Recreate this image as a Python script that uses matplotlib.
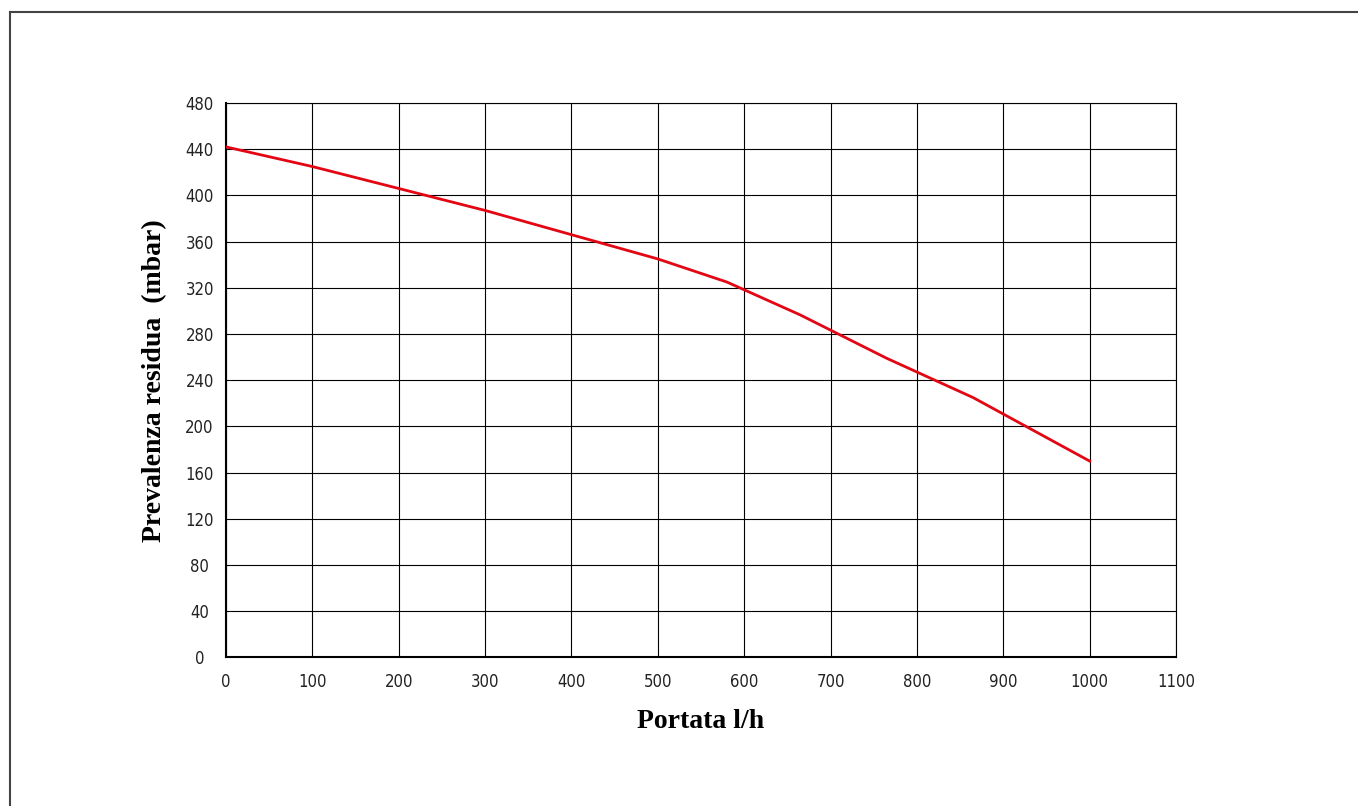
import matplotlib.pyplot as plt
from matplotlib.lines import Line2D

# Curva prevalenza residua
portata = [0, 100, 200, 300, 400, 500, 580, 665, 765, 865, 1000]
prevalenza = [442, 425, 406, 387, 366, 345, 325, 296.5, 259, 225, 170]

x_ticks = [0, 100, 200, 300, 400, 500, 600, 700, 800, 900, 1000, 1100]
y_ticks = [0, 40, 80, 120, 160, 200, 240, 280, 320, 360, 400, 440, 480]

fig = plt.figure(figsize=(13.58, 8.06), dpi=100)
ax = fig.add_axes([0.1664, 0.1843, 0.6996, 0.6879])

ax.plot(portata, prevalenza, color='#e30613', linewidth=2.0, zorder=3)

ax.set_xlim(0, 1100)
ax.set_ylim(0, 480)
ax.set_xticks(x_ticks)
ax.set_yticks(y_ticks)
ax.grid(True, color='black', linewidth=0.8)
ax.tick_params(length=0, labelsize=12, pad=11)
ax.tick_params(axis='y', pad=19)
for lab in ax.get_yticklabels():
    lab.set_horizontalalignment('center')
for lab in ax.get_xticklabels() + ax.get_yticklabels():
    lab.set_fontstretch('condensed')
    lab.set_color('#222222')

for s in ['top', 'right']:
    ax.spines[s].set_linewidth(0.8)
for s in ['left', 'bottom']:
    ax.spines[s].set_linewidth(1.5)

ax.set_xlabel('Portata l/h', fontsize=20, fontweight='bold',
              family='Liberation Serif', labelpad=13)
ax.set_ylabel('Prevalenza residua  (mbar)', fontsize=20, fontweight='bold',
              family='Liberation Serif', labelpad=13)

# Cornice (solo lati sinistro e superiore)
fig.add_artist(Line2D([10 / 1358, 10 / 1358], [0, 1 - 12 / 806],
                      transform=fig.transFigure, color='#444444', linewidth=1.5))
fig.add_artist(Line2D([10 / 1358, 1], [1 - 12 / 806, 1 - 12 / 806],
                      transform=fig.transFigure, color='#444444', linewidth=1.5))

fig.savefig('out.png', dpi=100)
